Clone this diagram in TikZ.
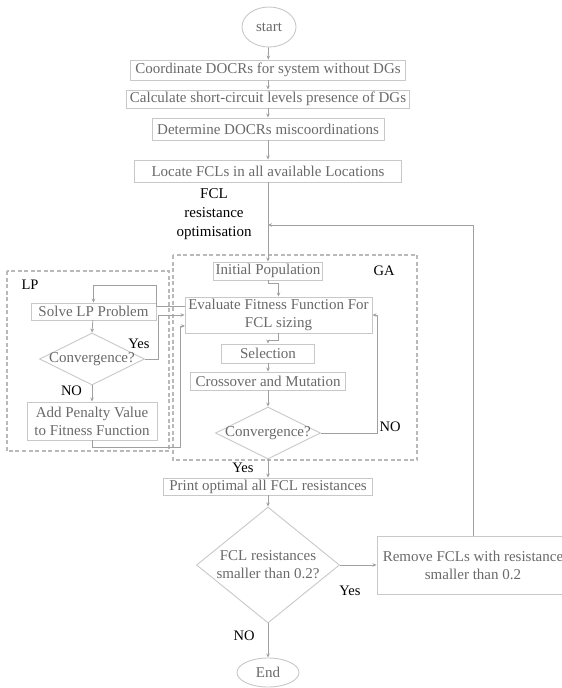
\documentclass[tikz,border=0pt]{standalone}
\usepackage{fontspec}
\setmainfont{Liberation Serif}
\usetikzlibrary{shapes.geometric,arrows.meta,calc}
\definecolor{boxc}{RGB}{200,200,200}
\definecolor{txtc}{RGB}{105,105,105}
\definecolor{linec}{RGB}{160,160,160}
\definecolor{dashc}{RGB}{185,185,185}
\begin{document}
\begin{tikzpicture}[x=1pt,y=-1pt,
 stepbox/.style={draw=boxc,line width=0.9pt,rectangle,inner sep=0pt,text=txtc,font=\fontsize{15}{18}\selectfont,align=center},
 term/.style={draw=boxc,line width=0.9pt,ellipse,inner sep=0pt,text=txtc,font=\fontsize{15}{18}\selectfont},
 decide/.style={draw=boxc,line width=0.9pt,diamond,inner sep=0pt},
 dtext/.style={text=txtc,font=\fontsize{15}{18}\selectfont,align=center,inner sep=0pt},
 arr/.style={draw=linec,line width=0.8pt,-{Stealth[length=4pt,width=3.5pt]}},
 ln/.style={draw=linec,line width=0.8pt},
 lab/.style={text=black,font=\fontsize{14.5}{17}\selectfont,inner sep=0pt},
 grp/.style={draw=dashc,line width=1.1pt,dash pattern=on 4pt off 2.5pt},
]
\useasboundingbox (0,0) rectangle (562,688);
\clip (0,0) rectangle (562,688);

% dashed groups
\draw[grp] (7,271) rectangle (169,451);
\draw[grp] (173,255) rectangle (417,460);

% main column
\node[term,minimum width=54pt,minimum height=40pt] (start) at (269,27) {start};
\node[stepbox,minimum width=275pt,minimum height=20pt] (b1) at (268,70) {Coordinate DOCRs for system without DGs};
\node[stepbox,minimum width=283pt,minimum height=18pt] (b2) at (268,99) {Calculate short-circuit levels presence of DGs};
\node[stepbox,minimum width=232pt,minimum height=22pt] (b3) at (268,129) {Determine DOCRs miscoordinations};
\node[stepbox,minimum width=267pt,minimum height=22pt] (b4) at (268,171) {Locate FCLs in all available Locations};

\node[align=center,inner sep=0pt,text=black,font=\fontsize{15}{19}\selectfont] (fcl) at (214,214) {FCL\\resistance\\optimisation};

% GA
\node[stepbox,minimum width=109pt,minimum height=18pt] (init) at (268,271) {Initial Population};
\node[stepbox,minimum width=187pt,minimum height=36pt] (eval) at (278.5,315) {Evaluate Fitness Function For\\FCL sizing};
\node[stepbox,minimum width=93pt,minimum height=19pt] (sel) at (268,353.5) {Selection};
\node[stepbox,minimum width=155pt,minimum height=18pt] (cross) at (268,381) {Crossover and Mutation};
\node[decide,minimum width=105pt,minimum height=52pt,label={[dtext]center:Convergence?}] (gaconv) at (268,433) {};
\node[lab] (galab) at (384,271) {GA};

% LP
\node[lab] (lplab) at (30,285) {LP};
\node[stepbox,minimum width=125pt,minimum height=17pt] (solve) at (93.5,311.5) {Solve LP Problem};
\node[decide,minimum width=105pt,minimum height=52pt,label={[dtext]center:Convergence?}] (lpconv) at (92,359) {};
\node[stepbox,minimum width=130pt,minimum height=38pt] (pen) at (92,421) {Add Penalty Value\\to Fitness Function};

% lower part
\node[stepbox,minimum width=209pt,minimum height=17pt] (print) at (268,486.5) {Print optimal all FCL resistances};
\node[decide,minimum width=143pt,minimum height=116pt,label={[dtext]center:FCL resistances\\smaller than 0.2?}] (bigd) at (268,565) {};
\node[stepbox,minimum width=192pt,minimum height=58pt] (remove) at (473,565) {Remove FCLs with resistance\\smaller than 0.2};
\node[term,minimum width=62pt,minimum height=29pt] (end) at (268,672.5) {End};

% labels
\node[lab] (yeslp) at (139,344) {Yes};
\node[lab] (nolp) at (71.5,391) {NO};
\node[lab] (noga) at (390,427) {NO};
\node[lab] (yesga) at (243,468) {Yes};
\node[lab] (yesbig) at (350,591) {Yes};
\node[lab] (nobig) at (244,636) {NO};

% coordinates
\coordinate (fb) at (268,225);
\coordinate (fbr) at (473,225);
\coordinate (l1a) at (156,306);
\coordinate (l1b) at (156,285);
\coordinate (l1c) at (93.5,285);
\coordinate (evw1) at (185,306);
\coordinate (p1) at (92,447);
\coordinate (p2) at (180,447);
\coordinate (p3) at (180,326);
\coordinate (evw3) at (185,326);
\coordinate (ganoR) at (377,433);

% connectors
\draw[arr] (start) -- (b1);
\draw[arr] (b1) -- (b2);
\draw[arr] (b2) -- (b3);
\draw[arr] (b3) -- (b4);
\draw[arr] (b4) -- (init);
\draw[arr] (init.south) -- ++(0,3) -| (eval.north);
\draw[arr] (eval.south) -- ++(0,7) -| (sel.north);
\draw[arr] (sel) -- (cross);
\draw[arr] (cross) -- (gaconv.north);
\draw[arr] (gaconv.east) -- (ganoR) |- (eval.east);
\draw[arr] (gaconv.south) -- (print.north);
\draw[arr] (print) -- (bigd.north);
\draw[arr] (bigd.east) -- (remove.west);
\draw[arr] (bigd.south) -- (end.north);
\draw[ln] (remove.north) -- (fbr);
\draw[arr] (fbr) -- (fb);

\draw[arr] (evw1) -- (l1a) -- (l1b) -- (l1c) -- (solve.north);
\draw[arr] (solve) -- (lpconv.north);
\draw[arr] (lpconv.east) -- ++(13,0) |- (eval.west);
\draw[arr] (lpconv.south) -- (pen.north);
\draw[arr] (pen.south) -- (p1) -- (p2) -- (p3) -- (evw3);
\end{tikzpicture}
\end{document}
